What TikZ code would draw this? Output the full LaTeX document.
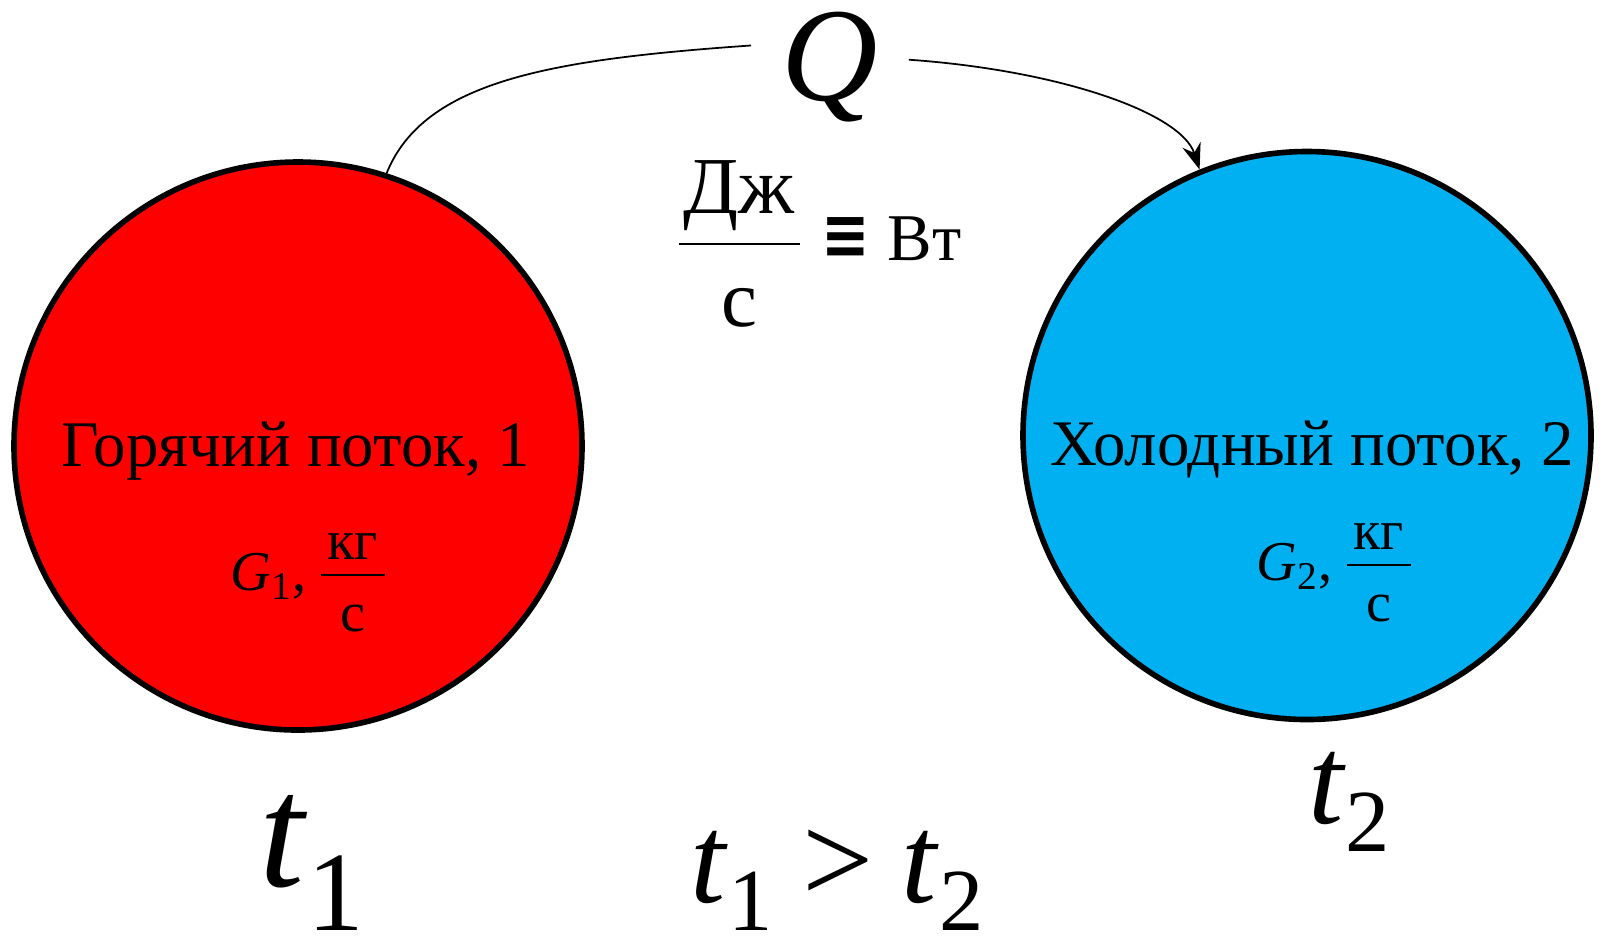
\documentclass[tikz,border=0pt]{standalone}
\usepackage{fontspec}
\setmainfont{Liberation Serif}
\newfontfamily\symbfont{DejaVu Sans}
\usetikzlibrary{arrows.meta}
\definecolor{hotred}{RGB}{255,0,0}
\definecolor{coldblue}{RGB}{0,176,240}
\newcommand{\flowunit}{$\displaystyle\frac{\hspace{2pt}\raisebox{-3pt}{кг}\hspace{2pt}}{\mbox{с}}$}

\begin{document}
\begin{tikzpicture}[>={Stealth[length=2.6mm, width=1.9mm]},
      stream/.style={circle, draw, line width=1.6pt, minimum size=5.68cm, inner sep=0pt},
      streamtext/.style={font=\fontsize{18.5}{22}\selectfont, anchor=base},
      rate/.style={font=\fontsize{16}{19}\selectfont, anchor=base},
      temp/.style={anchor=base, inner sep=0pt}]
    \useasboundingbox (0,0) rectangle (16.02,-9.37);
    \node[stream, fill=hotred] (hot) at (2.98,-4.46) {};
    \node[stream, fill=coldblue] (cold) at (13.07,-4.355) {};
    \node[streamtext] (hotname) at (2.96,-4.66) {Горячий поток, 1};
    \node[streamtext] (coldname) at (13.12,-4.65) {Холодный поток, 2};
    \node[rate] (hotrate) at (3.10,-5.90) {\textit{G}\textsubscript{1},\,\flowunit};
    \node[rate] (coldrate) at (13.36,-5.80) {\textit{G}\textsubscript{2},\,\flowunit};
    \node[anchor=base, inner sep=3mm, font=\fontsize{38}{42}\selectfont\itshape] (Q) at (8.30,-1.00) {Q};
    \node[anchor=base, font=\fontsize{23}{27}\selectfont] (unit) at (8.18,-2.66)
      {$\displaystyle\frac{\hspace{1.5pt}\raisebox{-2pt}{Дж}\hspace{1.5pt}}{\mbox{с}}$\hspace{5pt}\raisebox{2.2pt}{\scalebox{1}[1.2]{\symbfont\bfseries\fontsize{16.5}{18}\selectfont ≡}}\hspace{5pt}\raisebox{1.7pt}{\fontsize{19}{21}\selectfont Вт}};
    \node[temp, font=\fontsize{46}{50}\selectfont] (t1) at (3.13,-8.86) {\textit{t}\textsubscript{1}};
    \node[temp, font=\fontsize{36}{40}\selectfont] (t2) at (13.50,-8.23) {\textit{t}\textsubscript{2}};
    \node[temp, font=\fontsize{36}{40}\selectfont] (cmp) at (8.38,-9.02) {\textit{t}\textsubscript{1}\hspace{0.22em}>\hspace{0.22em}\textit{t}\textsubscript{2}};
    \draw[line width=0.5pt] (hot.72) .. controls +(68:1) and +(184:2) .. (Q.165);
    \draw[line width=0.5pt, ->] (Q.5) .. controls +(-4:1.5) and +(108:0.6) .. (cold.112);
  \end{tikzpicture}
\end{document}
